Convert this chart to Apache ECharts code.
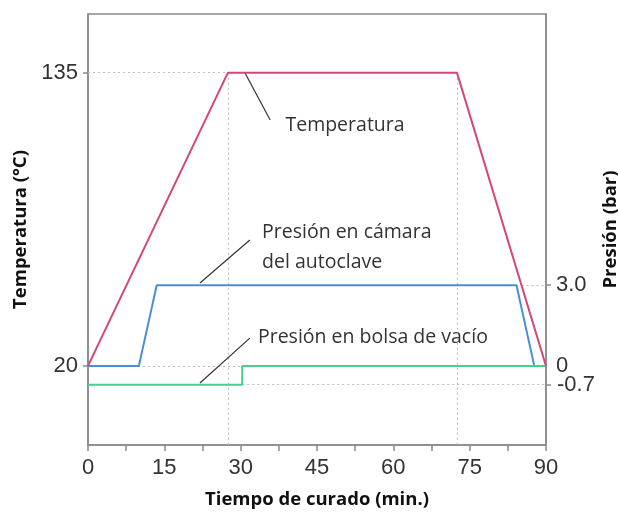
<!DOCTYPE html>
<html><head><meta charset="utf-8">
<script src="https://cdn.jsdelivr.net/npm/echarts@6/dist/echarts.min.js"></script>
<style>html,body{margin:0;padding:0;background:#fff}#c{width:618px;height:514px}</style>
</head><body><div id="c"></div>
<script>
// Data (time in min.)
const temperatura = [[0,20],[27.5,135],[72.5,135],[90,20]];
const presionCamara = [[0,0],[10,0],[13.5,3.0],[84.2,3.0],[87.7,0],[90,0]];
const presionBolsa = [[0,-0.7],[30.3,-0.7],[30.3,0],[90,0]];
const xLabels = [0,15,30,45,60,75,90];
const xTicks = [0,7.5,15,22.5,30,37.5,45,52.5,60,67.5,75,82.5,90];
const tempLabels = [20,135];
const presLabels = [0,3.0];
const presLabelsLow = [-0.7];
const presTicks = [-0.7,3.0];

const chart = echarts.init(document.getElementById('c'), null, {renderer:'canvas'});
const axisGray = '#8a8a8a';
const dotted = {color:'#bdbdbd', type:[2,3], width:1.2};
const tickFont = {fontFamily:'Liberation Sans, Arial, sans-serif', fontSize:22, color:'#333'};
const nameFont = {fontFamily:'Open Sans, sans-serif', fontWeight:'bold', fontSize:18.5, color:'#111'};
const fmtP = v => v===3 ? '3.0' : (v===0 ? '0' : String(v));

const option = {
  animation:false,
  grid:{left:88, right:72, top:14, bottom:69, show:true, borderColor:axisGray, borderWidth:1.5,
    outerBoundsMode:'none', containLabel:false},
  xAxis:{type:'value', min:0, max:90, interval:7.5,
    name:'Tiempo de curado (min.)', nameLocation:'middle', nameGap:45, nameTextStyle:nameFont,
    axisLine:{show:true, onZero:false, lineStyle:{color:axisGray, width:1.5}},
    axisTick:{show:true, length:6, lineStyle:{color:axisGray, width:1.5}, customValues:xTicks},
    axisLabel:Object.assign({margin:12, customValues:xLabels}, tickFont),
    splitLine:{show:false}},
  yAxis:[
    {type:'value', min:-11, max:158, position:'left',
      name:'Temperatura (°C)', nameLocation:'middle', nameGap:49, nameRotate:90, nameTextStyle:nameFont,
      axisLine:{show:true, onZero:false, lineStyle:{color:axisGray, width:1.5}},
      axisTick:{show:true, length:5, lineStyle:{color:axisGray, width:1.5}, customValues:tempLabels},
      axisLabel:Object.assign({margin:10, customValues:tempLabels}, tickFont),
      splitLine:{show:false}},
    {type:'value', min:-2.94, max:13.08, position:'right',
      name:'Presión (bar)', nameLocation:'middle', nameGap:55, nameRotate:90, nameTextStyle:nameFont,
      axisLine:{show:true, onZero:false, lineStyle:{color:axisGray, width:1.5}},
      axisTick:{show:true, length:5, lineStyle:{color:axisGray, width:1.5}, customValues:presTicks},
      axisLabel:Object.assign({margin:10, customValues:presLabels, formatter:fmtP}, tickFont),
      splitLine:{show:false}},
    {type:'value', min:-2.94, max:13.08, position:'right',
      axisLine:{show:false}, axisTick:{show:false},
      axisLabel:Object.assign({margin:11, customValues:presLabelsLow, formatter:fmtP}, tickFont),
      splitLine:{show:false}}
  ],
  series:[
    {name:'Temperatura', type:'line', yAxisIndex:0, data:temperatura, showSymbol:false, z:5,
      lineStyle:{color:'#d6457a', width:2}, itemStyle:{color:'#d6457a'},
      markLine:{silent:true, symbol:'none', label:{show:false}, lineStyle:dotted, z:1,
        data:[
          [{coord:[0,135]},{coord:[27.5,135]}],
          [{coord:[27.5,135]},{coord:[27.5,-11]}],
          [{coord:[72.5,135]},{coord:[72.5,-11]}],
          [{coord:[0,20]},{coord:[90,20]}]
        ]}},
    {name:'Leaders', type:'line', yAxisIndex:0, data:[], showSymbol:false,
      markLine:{silent:true, symbol:'none', label:{show:false}, lineStyle:{color:'#333', type:'solid', width:1.2},
        data:[
          [{coord:[30.85,134.9]},{coord:[35.8,116.4]}],
          [{coord:[22.0,52.5]},{coord:[31.8,69.4]}],
          [{coord:[22.0,13.3]},{coord:[31.8,30.9]}]
        ]}},
    {name:'Presión en cámara del autoclave', type:'line', yAxisIndex:1, data:presionCamara, showSymbol:false, z:4,
      lineStyle:{color:'#4a8fd6', width:2}, itemStyle:{color:'#4a8fd6'},
      markLine:{silent:true, symbol:'none', label:{show:false}, lineStyle:dotted, z:1,
        data:[[{coord:[84.2,3.0]},{coord:[90,3.0]}]]}},
    {name:'Presión en bolsa de vacío', type:'line', yAxisIndex:1, data:presionBolsa, showSymbol:false, z:4,
      lineStyle:{color:'#45d08c', width:2}, itemStyle:{color:'#45d08c'},
      markLine:{silent:true, symbol:'none', label:{show:false}, lineStyle:dotted, z:1,
        data:[[{coord:[30.3,-0.7]},{coord:[90,-0.7]}]]}}
  ]
};
chart.setOption(option);

const notes = [
  {text:'Temperatura', x:38.8, y:114.5},
  {text:'Presión en cámara', x:34.2, y:72.5},
  {text:'del autoclave', x:34.2, y:60.7},
  {text:'Presión en bolsa de vacío', x:33.4, y:31.3}
];
const graphics = notes.map(n => {
  const p = chart.convertToPixel({xAxisIndex:0, yAxisIndex:0}, [n.x, n.y]);
  return {type:'text', x:p[0], y:p[1], style:{text:n.text, fill:'#333', font:'19.5px "Open Sans", sans-serif', textAlign:'left', textVerticalAlign:'middle'}};
});
chart.setOption({graphic:graphics});
</script></body></html>
